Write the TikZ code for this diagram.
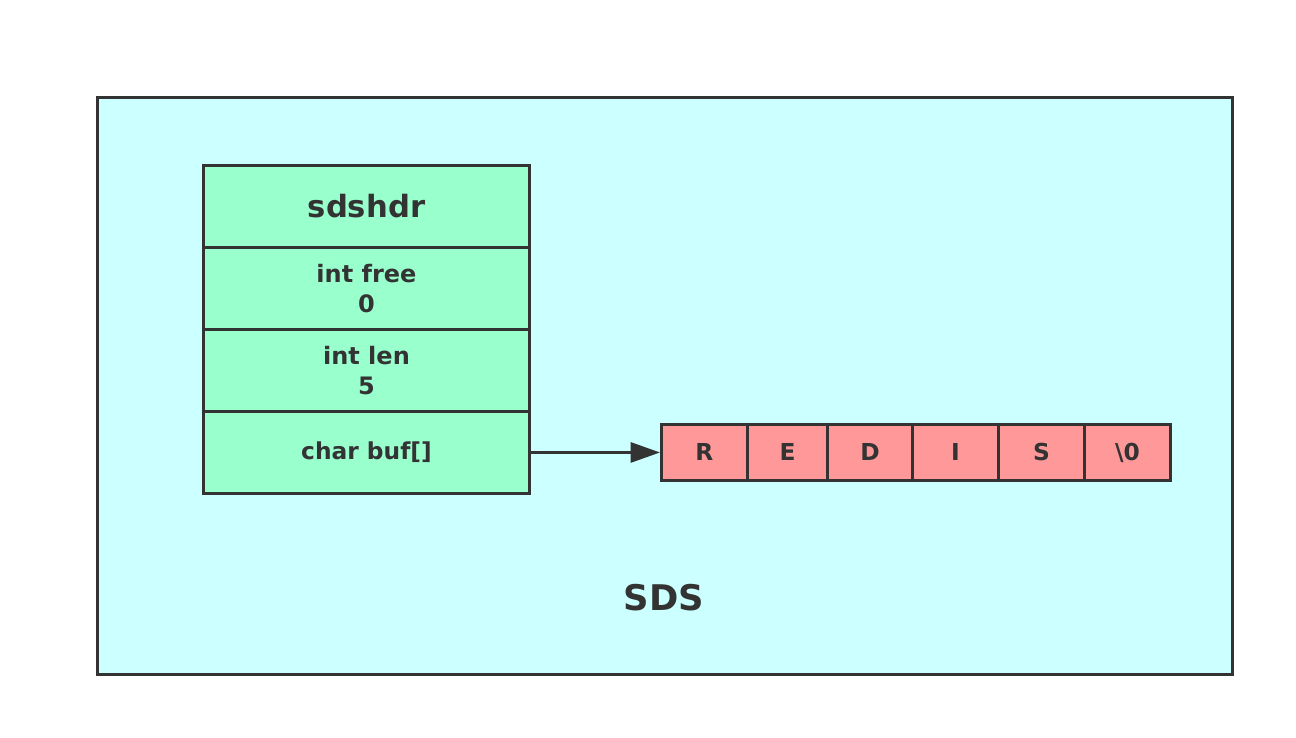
\documentclass[tikz,border=0pt]{standalone}
\usepackage{fontspec}
\setmainfont{DejaVu Sans}
\usetikzlibrary{arrows.meta,positioning}
\definecolor{outerfill}{HTML}{CCFFFF}
\definecolor{hdrfill}{HTML}{99FFCC}
\definecolor{arrfill}{HTML}{FF9999}
\definecolor{ink}{HTML}{333333}
\begin{document}
\begin{tikzpicture}[x=0.75pt,y=-0.75pt,
  box/.style={draw=ink,line width=2.2pt,text=ink,font=\bfseries,inner sep=0pt,align=center},
  hdrcell/.style={box,fill=hdrfill,minimum width=326*0.75pt,minimum height=82*0.75pt,anchor=north west},
  arrcell/.style={box,fill=arrfill,minimum height=56*0.75pt,anchor=north west,font=\bfseries\fontsize{17.5pt}{20pt}\selectfont}]
\useasboundingbox (0,0) rectangle (1296,738);
\node[box,fill=outerfill,minimum width=1135*0.75pt,minimum height=577*0.75pt,anchor=north west] (sds) at (96,96) {};
\node[text=ink,font=\bfseries\fontsize{26.5pt}{30pt}\selectfont] (sdslabel) at (664,598) {SDS};
\node[hdrcell,font=\bfseries\fontsize{23pt}{28pt}\selectfont] (hdr) at (202,164) {sdshdr};
\node[hdrcell,font=\bfseries\fontsize{18pt}{23pt}\selectfont] (free) at (202,246) {int free\\0};
\node[hdrcell,font=\bfseries\fontsize{18pt}{23pt}\selectfont] (len) at (202,328) {int len\\5};
\node[hdrcell,font=\bfseries\fontsize{17.5pt}{20pt}\selectfont] (buf) at (202,410) {char buf[]};
\node[arrcell,minimum width=86*0.75pt] (c1) at (660,423) {R};
\node[arrcell,minimum width=80*0.75pt] (c2) at (746,423) {E};
\node[arrcell,minimum width=85*0.75pt] (c3) at (826,423) {D};
\node[arrcell,minimum width=86*0.75pt] (c4) at (911,423) {I};
\node[arrcell,minimum width=86*0.75pt] (c5) at (997,423) {S};
\node[arrcell,minimum width=86*0.75pt] (c6) at (1083,423) {\textbackslash0};
\draw[draw=ink,line width=2.2pt,-{Triangle[length=22pt,width=15pt]}] (buf.east) -- (c1.west);
\end{tikzpicture}
\end{document}
